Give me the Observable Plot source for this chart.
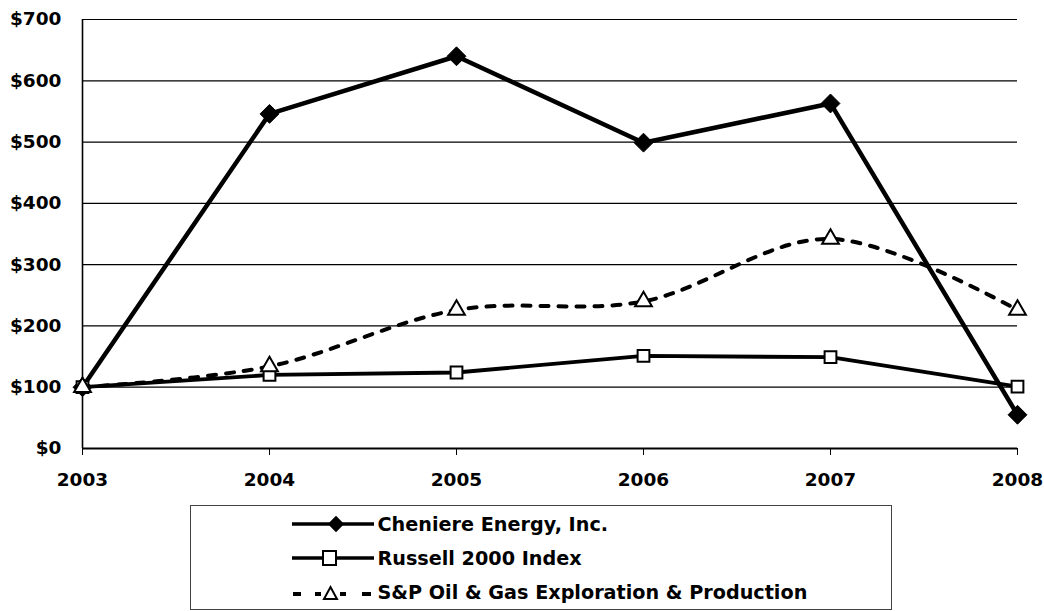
<!DOCTYPE html>
<html>
<head>
<meta charset="utf-8">
<script src="https://cdn.jsdelivr.net/npm/d3@7"></script>
<script src="https://cdn.jsdelivr.net/npm/@observablehq/plot@0.6"></script>
<style>
  html, body { margin: 0; padding: 0; background: #fff; }
  #wrap { position: relative; width: 1044px; height: 611px; overflow: hidden; }
  #legend { position: absolute; left: 190px; top: 505px; width: 702px; height: 105px;
            border: 1.5px solid #444; box-sizing: border-box; font-family: "DejaVu Sans", sans-serif;
            font-weight: bold; font-size: 19.2px; color: #000; }
  .row { position: absolute; left: 100.5px; height: 30px; display: flex; align-items: center; white-space: nowrap; }
  .row svg { display: block; }
</style>
</head>
<body>
<div id="wrap">
  <div id="chart"></div>
  <div id="legend"></div>
</div>
<script>
const years = [2003, 2004, 2005, 2006, 2007, 2008];
const seriesNames = ["Cheniere Energy, Inc.", "Russell 2000 Index", "S&P Oil & Gas Exploration & Production"];
const cheniere = [100, 546, 640, 499, 563, 55];
const russell = [100, 120, 124, 151, 149, 101];
const spOilGas = [100, 134, 226, 240, 342, 226];
const yTicks = [0, 100, 200, 300, 400, 500, 600, 700];

const toRows = (vals, name) => years.map((y, i) => ({year: y, value: vals[i], series: name}));
const cheRows = toRows(cheniere, seriesNames[0]);
const rusRows = toRows(russell, seriesNames[1]);
const spRows = toRows(spOilGas, seriesNames[2]);

const chart = Plot.plot({
  width: 1044,
  height: 500,
  marginLeft: 82,
  marginRight: 27,
  marginTop: 19,
  marginBottom: 52,
  style: {fontFamily: "'DejaVu Sans', sans-serif", fontSize: "18.5px", fontWeight: "bold", color: "#000", background: "#fff"},
  x: {domain: [2003, 2008], ticks: years, tickFormat: d => String(d), tickSize: 7, tickPadding: 17, label: null},
  y: {domain: [0, 700], ticks: yTicks, tickFormat: d => "$" + d, tickSize: 0, tickPadding: 21, label: null},
  marks: [
    Plot.ruleY(yTicks.filter(d => d > 0), {stroke: "#000", strokeWidth: 1.2}),
    Plot.ruleY([0], {stroke: "#000", strokeWidth: 2}),
    Plot.ruleX([2003], {y1: 0, y2: 700, stroke: "#000", strokeWidth: 1.6}),
    Plot.line(spRows, {x: "year", y: "value", stroke: "#000", strokeWidth: 4, strokeDasharray: "8,10", curve: "cardinal"}),
    Plot.line(rusRows, {x: "year", y: "value", stroke: "#000", strokeWidth: 3.8}),
    Plot.line(cheRows, {x: "year", y: "value", stroke: "#000", strokeWidth: 4.5}),
    Plot.dot(cheRows, {x: "year", y: "value", symbol: "diamond2", r: 8.5, fill: "#000", stroke: "#000", strokeWidth: 1}),
    Plot.dot(rusRows, {x: "year", y: "value", symbol: "square2", r: 7.5, fill: "#fff", stroke: "#000", strokeWidth: 2}),
    Plot.dot(spRows, {x: "year", y: "value", symbol: "triangle2", r: 8, fill: "#fff", stroke: "#000", strokeWidth: 2})
  ]
});
document.getElementById("chart").appendChild(chart);

// Legend
const legend = d3.select("#legend");
const rowTops = [3, 37, 71];
seriesNames.forEach((name, i) => {
  const row = legend.append("div").attr("class", "row").style("top", rowTops[i] + "px");
  const s = row.append("svg").attr("width", 84).attr("height", 30);
  if (i === 0) {
    s.append("line").attr("x1", 0).attr("x2", 82).attr("y1", 15).attr("y2", 15).attr("stroke", "#000").attr("stroke-width", 3.5);
    s.append("path").attr("d", d3.symbol(d3.symbolDiamond2, 170)()).attr("transform", "translate(44,15)").attr("fill", "#000");
  } else if (i === 1) {
    s.append("line").attr("x1", 0).attr("x2", 82).attr("y1", 15).attr("y2", 15).attr("stroke", "#000").attr("stroke-width", 3.5);
    s.append("rect").attr("x", 31).attr("y", 8).attr("width", 13).attr("height", 14).attr("fill", "#fff").attr("stroke", "#000").attr("stroke-width", 2);
  } else {
    [[1, 9], [23, 29], [48, 54], [70, 79]].forEach(([a, b]) =>
      s.append("line").attr("x1", a).attr("x2", b).attr("y1", 17).attr("y2", 17).attr("stroke", "#000").attr("stroke-width", 4));
    s.append("path").attr("d", "M32,22 L38.5,10 L45,22 Z").attr("fill", "#fff").attr("stroke", "#000").attr("stroke-width", 2);
  }
  row.append("span").text(name).style("margin-left", "2px");
});
</script>
</body>
</html>
